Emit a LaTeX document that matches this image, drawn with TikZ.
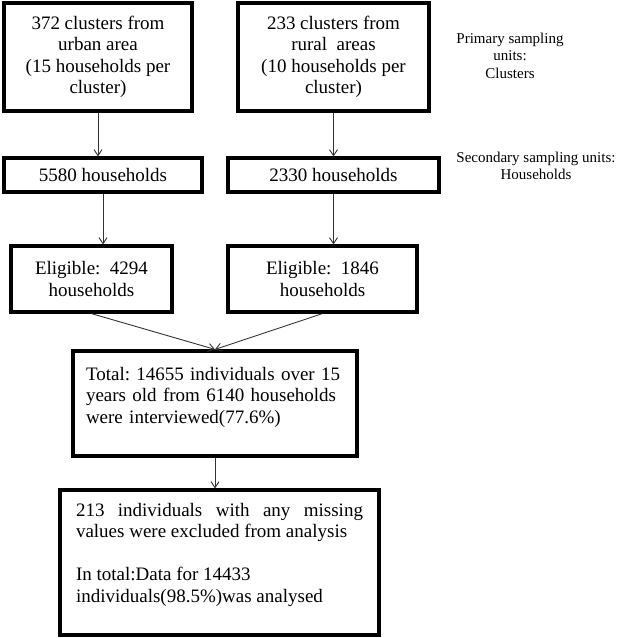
\documentclass[tikz,border=0pt]{standalone}
\usepackage{fontspec}
\setmainfont{Liberation Serif}
\usepackage{xcolor}
\usepackage{tikz}
\usetikzlibrary{arrows.meta}
\tolerance=10000
\hyphenpenalty=10000
\frenchspacing

\begin{document}
\begin{tikzpicture}[
  x=1pt, y=-1pt,
  box/.style={draw, line width=3.2pt, inner sep=0pt, align=center,
    font=\fontsize{19}{21.5}\selectfont},
  unit/.style={inner sep=0pt, align=center, font=\fontsize{15}{17.5}\selectfont},
  link/.style={draw, line width=0.9pt, black!80, -{Straight Barb[length=6pt,width=8pt]}}
  ]
\useasboundingbox (0,0) rectangle (618,638);

% Clusters
\node[box, minimum width=188pt, minimum height=108pt] (urban) at (98,57)
  {372 clusters from\\urban area\\(15 households per\\cluster)};
\node[box, minimum width=191pt, minimum height=108pt] (rural) at (333.5,57)
  {233 clusters from\\rural~ areas\\(10 households per\\cluster)};

% Households
\node[box, minimum width=198pt, minimum height=34pt] (hh1) at (103,175) {5580 households};
\node[box, minimum width=211pt, minimum height=34pt] (hh2) at (333.5,175) {2330 households};

% Eligible
\node[box, minimum width=161pt, minimum height=66pt] (elig1) at (91.5,279)
  {Eligible:~ 4294\\households};
\node[box, minimum width=189pt, minimum height=66pt] (elig2) at (322.5,279)
  {Eligible:~ 1846\\households};

% Interviewed and analysed
\node[box, align=left, text width=258pt, minimum width=284pt, minimum height=105pt] (total) at (215,403.5)
  {Total: 14655 individuals over 15\\years old from 6140 households\\were interviewed(77.6\%)\\[-11.5pt]\strut};
\node[box, align=justify, text width=287pt, minimum width=319pt, minimum height=145pt] (final) at (219.5,562.5)
  {213 individuals with any missing values were excluded from analysis\\[21.5pt]In total:Data for 14433\\individuals(98.5\%)was analysed\\[-8pt]\strut};

% Sampling units
\node[unit] (psu) at (510,55.5) {Primary sampling\\units:\\Clusters};
\node[unit] (ssu) at (536,166) {Secondary sampling units:\\Households};

% Arrows
\draw[link] (urban.south) -- (urban.south |- hh1.north);
\draw[link] (rural.south) -- (rural.south |- hh2.north);
\draw[link] (hh1.south) -- (hh1.south |- elig1.north);
\draw[link] (hh2.south) -- (hh2.south |- elig2.north);
\draw[link] (elig1.south) -- (total.north);
\draw[link] (elig2.south) -- (total.north);
\draw[link] (total.south) -- (total.south |- final.north);

\end{tikzpicture}
\end{document}
